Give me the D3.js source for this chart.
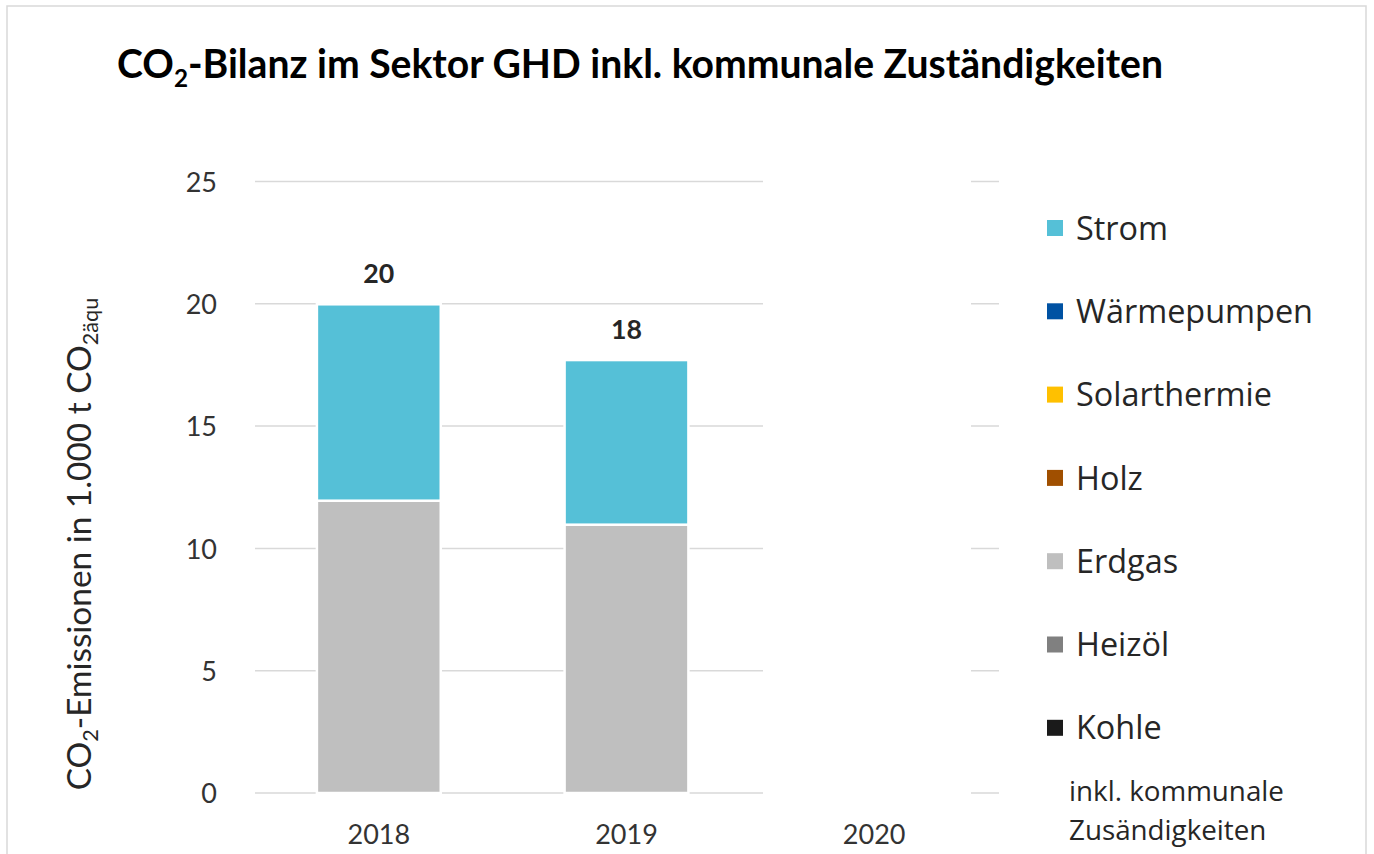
<!DOCTYPE html>
<html>
<head>
<meta charset="utf-8">
<script src="https://cdn.jsdelivr.net/npm/d3@7"></script>
<style>
  html, body { margin: 0; padding: 0; background: #fff; }
  svg { display: block; }
</style>
</head>
<body>
<svg id="chart" width="1374" height="854"></svg>
<script>
// ---- Data ----
const years = ["2018", "2019", "2020"];
const seriesNames = ["Kohle", "Heizöl", "Erdgas", "Holz", "Solarthermie", "Wärmepumpen", "Strom"];
const kohle        = [0, 0, 0];
const heizoel      = [0, 0, 0];
const erdgas       = [11.95, 10.97, 0];
const holz         = [0, 0, 0];
const solarthermie = [0, 0, 0];
const waermepumpen = [0, 0, 0];
const strom        = [8.03, 6.73, 0];
const seriesColors = ["#1a1a1a", "#808080", "#bfbfbf", "#a04f00", "#ffc000", "#0052a3", "#55c0d7"];
const yTicks = [0, 5, 10, 15, 20, 25];
const legendOrder = ["Strom", "Wärmepumpen", "Solarthermie", "Holz", "Erdgas", "Heizöl", "Kohle"];

const valuesByName = {
  "Kohle": kohle, "Heizöl": heizoel, "Erdgas": erdgas, "Holz": holz,
  "Solarthermie": solarthermie, "Wärmepumpen": waermepumpen, "Strom": strom
};
const colorOf = d3.scaleOrdinal(seriesNames, seriesColors);

const table = years.map((y, i) => {
  const row = { year: y };
  seriesNames.forEach(n => row[n] = valuesByName[n][i]);
  return row;
});

const svg = d3.select("#chart");
const axisFont = "Lato, 'Liberation Sans', sans-serif";
const legendFont = "'Open Sans', 'DejaVu Sans', sans-serif";

function fit(sel, target) {
  const node = sel.node();
  const fs = parseFloat(sel.attr("font-size"));
  const w = node.getComputedTextLength();
  sel.attr("font-size", (fs * target / w).toFixed(2));
}

// Border
svg.append("rect")
  .attr("x", 7).attr("y", 6).attr("width", 1359).attr("height", 870)
  .attr("fill", "none").attr("stroke", "#d9d9d9").attr("stroke-width", 1.5);

// Scales
const x = d3.scaleBand().domain(years).range([255, 998]).paddingInner(0.5).paddingOuter(0.25);
const y = d3.scaleLinear().domain([0, 25]).range([793, 181.5]);

// Gridlines
const grid = svg.append("g");
grid.selectAll("line").data(yTicks).join("line")
  .attr("x1", 255).attr("x2", 999)
  .attr("y1", d => y(d)).attr("y2", d => y(d))
  .attr("stroke", "#d9d9d9").attr("stroke-width", 1.5);
// white area masking the gridlines (as in reference)
svg.append("rect").attr("x", 763).attr("y", 170).attr("width", 208).attr("height", 640).attr("fill", "#fff");

// Stacked bars
const stack = d3.stack().keys(seriesNames);
const stacked = stack(table);
svg.append("g").selectAll("g").data(stacked).join("g")
  .attr("fill", d => colorOf(d.key))
  .selectAll("rect")
  .data(d => d.filter(s => s[1] - s[0] > 0))
  .join("rect")
  .attr("x", d => x(d.data.year))
  .attr("width", x.bandwidth())
  .attr("y", d => y(d[1]))
  .attr("height", d => y(d[0]) - y(d[1]))
  .attr("stroke", "#fff").attr("stroke-width", 2.5);

// Totals
table.forEach(row => {
  const total = d3.sum(seriesNames, n => row[n]);
  if (total > 0) {
    const t = svg.append("text")
      .attr("x", x(row.year) + x.bandwidth() / 2)
      .attr("y", y(total) - 21)
      .attr("text-anchor", "middle")
      .attr("font-family", axisFont).attr("font-weight", "bold")
      .attr("font-size", 24).attr("fill", "#262626")
      .text(d3.format(".0f")(total));
    fit(t, 31);
  }
});

// Y axis tick labels
const yAxis = d3.axisLeft(y).tickValues(yTicks).tickSize(0).tickPadding(0).tickFormat(d3.format("d"));
const yg = svg.append("g").attr("transform", "translate(217,0)").call(yAxis);
yg.select(".domain").remove();
yg.selectAll("text")
  .attr("font-family", axisFont).attr("font-size", 27).attr("fill", "#333333")
  .attr("dy", "0.36em");

// X axis labels
const xAxis = d3.axisBottom(x).tickSize(0).tickPadding(0);
const xg = svg.append("g").attr("transform", "translate(0,825)").call(xAxis);
xg.select(".domain").remove();
xg.selectAll("text")
  .attr("font-family", axisFont).attr("font-size", 27).attr("fill", "#333333")
  .attr("dy", "0.71em");

// Title
const title = svg.append("text")
  .attr("x", 117).attr("y", 78)
  .attr("font-family", axisFont).attr("font-weight", "bold")
  .attr("font-size", 36).attr("fill", "#000");
title.append("tspan").text("CO");
title.append("tspan").attr("font-size", "0.62em").attr("dy", 9).text("2");
title.append("tspan").attr("dy", -9).text("-Bilanz im Sektor GHD inkl. kommunale Zuständigkeiten");
fit(title, 1046);

// Y axis title
const ylab = svg.append("text")
  .attr("transform", "translate(91,544) rotate(-90)")
  .attr("text-anchor", "middle")
  .attr("font-family", axisFont).attr("font-size", 28).attr("fill", "#262626");
ylab.append("tspan").text("CO");
ylab.append("tspan").attr("font-size", "0.65em").attr("dy", 7).text("2");
ylab.append("tspan").attr("dy", -7).text("-Emissionen in 1.000 t CO");
ylab.append("tspan").attr("font-size", "0.65em").attr("dy", 7).text("2äqu");
fit(ylab, 493);

// Legend
const legY0 = 228, legStep = 83.3;
const leg = svg.append("g");
let legFs = 30;
legendOrder.forEach((name, i) => {
  const cy = legY0 + i * legStep;
  leg.append("rect")
    .attr("x", 1047).attr("y", cy - 8).attr("width", 16).attr("height", 16)
    .attr("fill", colorOf(name));
  const t = leg.append("text")
    .attr("class", "legtext")
    .attr("x", 1076).attr("y", cy)
    .attr("font-family", legendFont).attr("font-size", legFs).attr("fill", "#262626")
    .text(name);
  if (name === "Wärmepumpen") {
    const w = t.node().getComputedTextLength();
    legFs = legFs * 237 / w;
  }
});
leg.selectAll(".legtext").attr("font-size", legFs.toFixed(2)).attr("dy", (legFs * 0.36).toFixed(2));

// Note
const note1 = svg.append("text")
  .attr("x", 1069).attr("y", 791)
  .attr("font-family", legendFont).attr("font-size", 24).attr("fill", "#262626")
  .text("inkl. kommunale");
fit(note1, 215);
const nfs = parseFloat(note1.attr("font-size"));
note1.attr("dy", (nfs * 0.36).toFixed(2));
svg.append("text")
  .attr("x", 1069).attr("y", 830).attr("dy", (nfs * 0.36).toFixed(2))
  .attr("font-family", legendFont).attr("font-size", nfs).attr("fill", "#262626")
  .text("Zusändigkeiten");
</script>
</body>
</html>
